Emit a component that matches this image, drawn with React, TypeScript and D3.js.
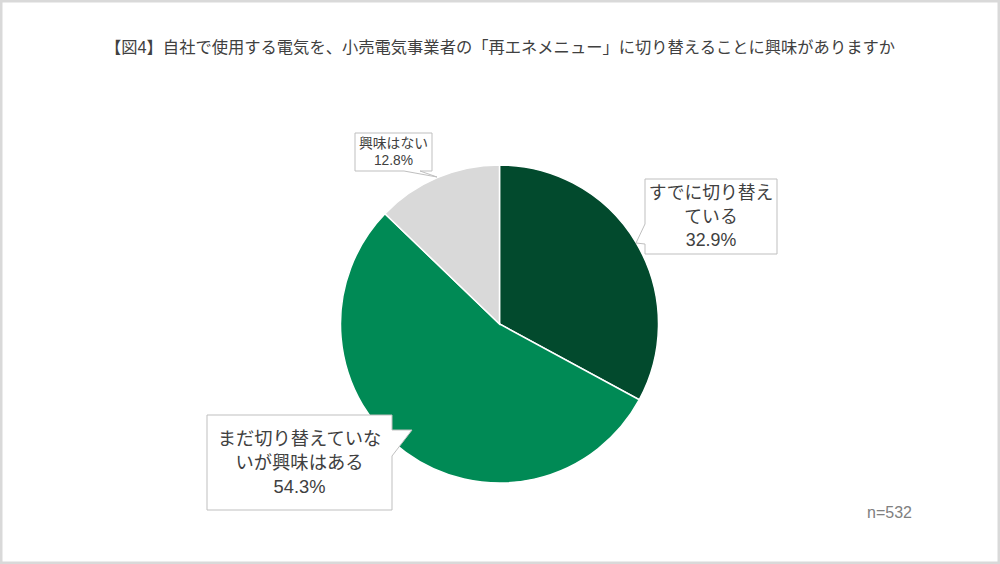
import { useMemo } from "react";
import * as d3 from "d3";

const TITLE =
  "【図4】自社で使用する電気を、小売電気事業者の「再エネメニュー」に切り替えることに興味がありますか";
const CATEGORIES = ["すでに切り替えている", "まだ切り替えていないが興味はある", "興味はない"];
const VALUES = [32.9, 54.3, 12.8];
const LABEL_LINES = [
  ["すでに切り替え", "ている", "32.9%"],
  ["まだ切り替えていな", "いが興味はある", "54.3%"],
  ["興味はない", "12.8%"],
];
const COLORS = ["#024a2d", "#008a55", "#d9d9d9"];
const SAMPLE_NOTE = "n=532";

const W = 1000;
const H = 564;
const CX = 499.5;
const CY = 324;
const R = 159;
const FONT = "'Liberation Sans', Arial, 'Noto Sans CJK JP', sans-serif";

// callout boxes: rect, pointer side and tip, font size, line height
type Callout = {
  x: number;
  y: number;
  w: number;
  h: number;
  side: "left" | "right" | "bottom";
  a: number;
  b: number;
  tip: [number, number];
  fs: number;
  lh: number;
};

const CALLOUTS: Callout[] = [
  { x: 645, y: 179, w: 132, h: 75, side: "left", a: 224, b: 244, tip: [636, 243], fs: 17.8, lh: 23.5 },
  { x: 207, y: 415, w: 185, h: 95, side: "right", a: 430, b: 456, tip: [412, 430], fs: 18.3, lh: 24 },
  { x: 355, y: 133, w: 77, h: 38, side: "bottom", a: 404, b: 420, tip: [437, 177], fs: 13.8, lh: 17 },
];

function calloutPath(c: Callout) {
  const { x, y, w, h, side, a, b, tip } = c;
  const r = x + w;
  const btm = y + h;
  const t = `${tip[0]},${tip[1]}`;
  if (side === "left")
    return `M${x},${y}H${r}V${btm}H${x}V${b}L${t}L${x},${a}Z`;
  if (side === "right")
    return `M${x},${y}H${r}V${a}L${t}L${r},${b}V${btm}H${x}Z`;
  return `M${x},${y}H${r}V${btm}H${b}L${t}L${a},${btm}H${x}Z`;
}

export default function App() {
  const arcs = useMemo(() => {
    const pie = d3
      .pie<number>()
      .sort(null)
      .value((d) => d);
    return pie(VALUES);
  }, []);

  const arc = d3.arc<d3.PieArcDatum<number>>().innerRadius(0).outerRadius(R);

  return (
    <svg
      width={W}
      height={H}
      style={{ position: "absolute", left: 0, top: 0, display: "block" }}
      fontFamily={FONT}
    >
      <rect x={0} y={0} width={W} height={H} fill="#d9d9d9" />
      <rect x={2.5} y={2.5} width={W - 5} height={H - 5} fill="#ffffff" />
      <text x={W / 2} y={53} textAnchor="middle" fontSize={16.3} fill="#404040">
        {TITLE}
      </text>

      <g transform={`translate(${CX},${CY})`}>
        {arcs.map((d, i) => (
          <path
            key={CATEGORIES[i]}
            d={arc(d) ?? ""}
            fill={COLORS[i]}
            stroke="#ffffff"
            strokeWidth={1.5}
          />
        ))}
      </g>

      {CALLOUTS.map((c, i) => {
        const lines = LABEL_LINES[i];
        const midY = c.y + c.h / 2;
        const first = midY - ((lines.length - 1) * c.lh) / 2;
        return (
          <g key={CATEGORIES[i]}>
            <path d={calloutPath(c)} fill="#ffffff" stroke="#bfbfbf" strokeWidth={1} />
            {lines.map((ln, j) => (
              <text
                key={j}
                x={c.x + c.w / 2}
                y={first + j * c.lh}
                dy="0.36em"
                textAnchor="middle"
                fontSize={c.fs}
                fill="#404040"
              >
                {ln}
              </text>
            ))}
          </g>
        );
      })}

      <text x={912} y={518} textAnchor="end" fontSize={16} fill="#808080">
        {SAMPLE_NOTE}
      </text>
    </svg>
  );
}
